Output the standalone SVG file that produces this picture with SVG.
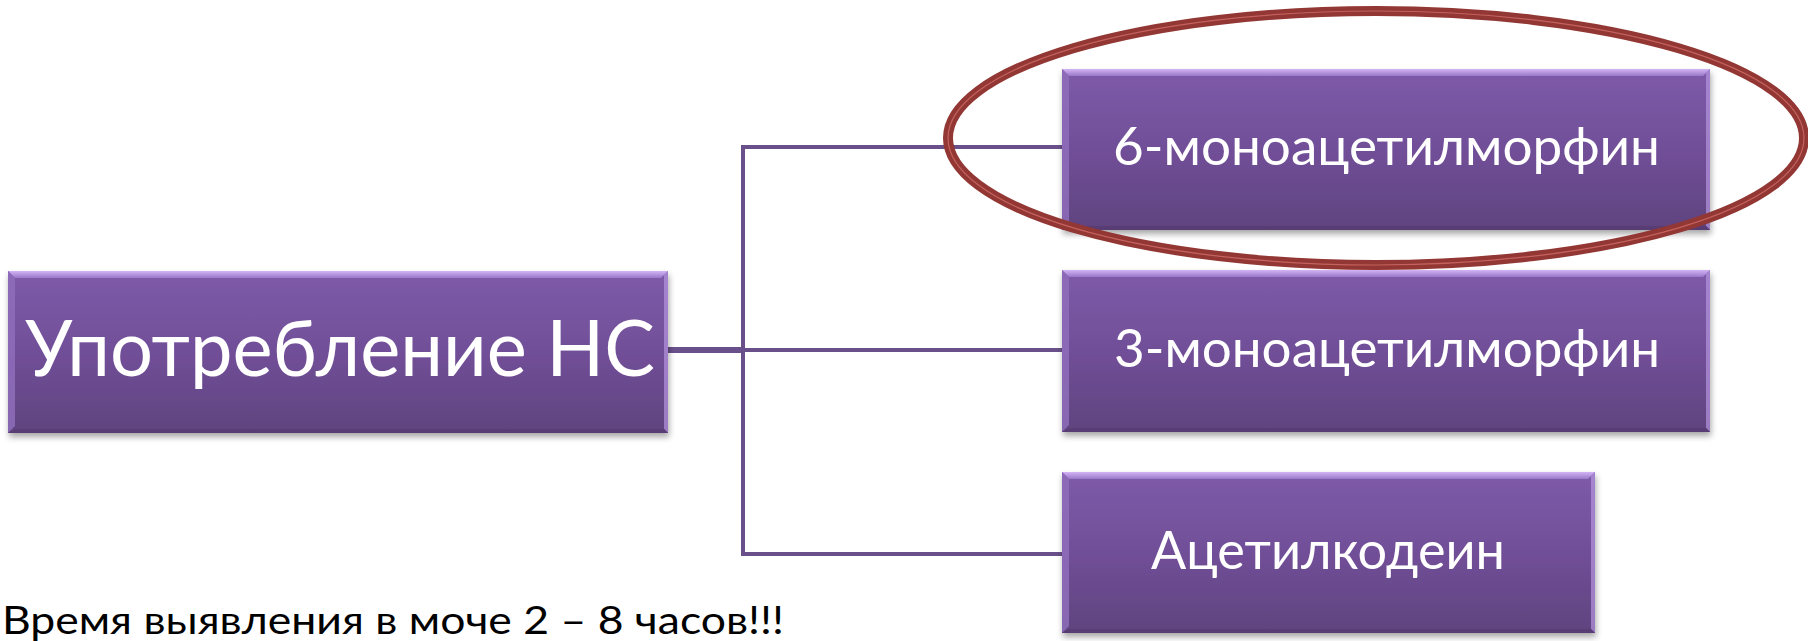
<svg xmlns="http://www.w3.org/2000/svg" width="1808" height="641" viewBox="0 0 1808 641">
<style>
.box{fill:url(#body);filter:url(#sh)}
.bt{fill:url(#topbev)}
.bl{fill:#8f6dbb;opacity:.85}
.br{fill:#b796e0;opacity:.7}
.bb{fill:#573d74}
.lbl{font-family:Lato,"Open Sans","Noto Sans",sans-serif;fill:#ffffff}
.conn{stroke:#69508a;fill:none;stroke-width:4}
</style>
<defs>
<linearGradient id="body" x1="0" y1="0" x2="0" y2="1">
<stop offset="0" stop-color="#7d5ba9"/>
<stop offset="0.5" stop-color="#714f98"/>
<stop offset="1" stop-color="#5f437f"/>
</linearGradient>
<linearGradient id="topbev" x1="0" y1="0" x2="0" y2="1">
<stop offset="0" stop-color="#d2b4f6"/>
<stop offset="1" stop-color="#9a78c8"/>
</linearGradient>
<filter id="sh" x="-5%" y="-10%" width="110%" height="125%">
<feDropShadow dx="1" dy="4" stdDeviation="3" flood-color="#000" flood-opacity="0.35"/>
</filter>
</defs>

<g id="connectors">
<line class="conn" x1="666" y1="350" x2="745" y2="350" style="stroke-width:6"/>
<polyline class="conn" points="1062,147 743,147 743,554 1062,554"/>
<line class="conn" x1="743" y1="350" x2="1062" y2="350"/>
</g>

<g id="node-main">
<rect class="box" x="8" y="271" width="660" height="162"/>
<polygon class="bt" points="8,271 668,271 661,278 15,278"/>
<polygon class="bl" points="8,271 15,278 15,426 8,433"/>
<polygon class="br" points="668,271 668,433 664,429 664,275"/>
<polygon class="bb" points="8,433 15,429 664,429 668,433"/>
<text class="lbl" x="25" y="376" font-size="78" textLength="630" lengthAdjust="spacingAndGlyphs">Употребление НС</text>
</g>

<g id="node-6mam">
<rect class="box" x="1062" y="69" width="648" height="161"/>
<polygon class="bt" points="1062,69 1710,69 1703,76 1069,76"/>
<polygon class="bl" points="1062,69 1069,76 1069,223 1062,230"/>
<polygon class="br" points="1710,69 1710,230 1706,226 1706,73"/>
<polygon class="bb" points="1062,230 1069,226 1706,226 1710,230"/>
<text class="lbl" x="1113" y="165" font-size="52" textLength="547" lengthAdjust="spacingAndGlyphs">6-моноацетилморфин</text>
</g>

<g id="node-3mam">
<rect class="box" x="1062" y="270" width="648" height="162"/>
<polygon class="bt" points="1062,270 1710,270 1703,277 1069,277"/>
<polygon class="bl" points="1062,270 1069,277 1069,425 1062,432"/>
<polygon class="br" points="1710,270 1710,432 1706,428 1706,274"/>
<polygon class="bb" points="1062,432 1069,428 1706,428 1710,432"/>
<text class="lbl" x="1114" y="367" font-size="52" textLength="546" lengthAdjust="spacingAndGlyphs">3-моноацетилморфин</text>
</g>

<g id="node-acetylcodeine">
<rect class="box" x="1062" y="472" width="533" height="161"/>
<polygon class="bt" points="1062,472 1595,472 1588,479 1069,479"/>
<polygon class="bl" points="1062,472 1069,479 1069,626 1062,633"/>
<polygon class="br" points="1595,472 1595,633 1591,629 1591,476"/>
<polygon class="bb" points="1062,633 1069,629 1591,629 1595,633"/>
<text class="lbl" x="1151" y="569" font-size="52" textLength="354" lengthAdjust="spacingAndGlyphs">Ацетилкодеин</text>
</g>

<g id="highlight-ellipse">
<ellipse cx="1376" cy="138" rx="428" ry="127" fill="none" stroke="#923734" stroke-width="10"/>
<ellipse cx="1376" cy="138" rx="428" ry="127" fill="none" stroke="#c4625e" stroke-width="1.2"/>
</g>

<g id="note">
<text x="2" y="634" font-family="Lato,'Open Sans','Noto Sans',sans-serif" font-size="38" fill="#000000" textLength="782" lengthAdjust="spacingAndGlyphs">Время выявления в моче 2 – 8 часов!!!</text>
</g>
</svg>
